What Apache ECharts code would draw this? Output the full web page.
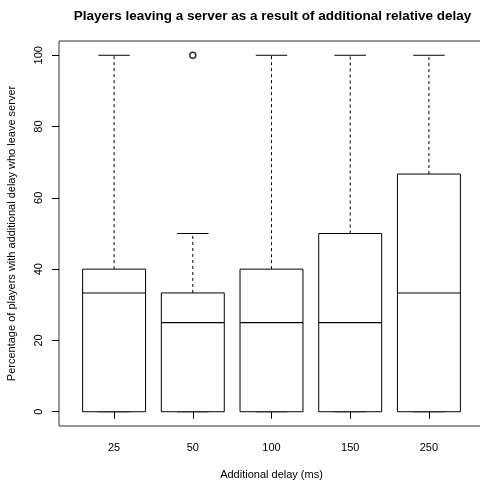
<!DOCTYPE html>
<html><head><meta charset="utf-8">
<script src="https://cdn.jsdelivr.net/npm/echarts@6/dist/echarts.min.js"></script>
<style>html,body{margin:0;padding:0;background:#fff}#c{width:480px;height:483px}</style>
</head><body><div id="c"></div>
<script>
var categories = ['25', '50', '100', '150', '250'];
var lowerWhisker = [0, 0, 0, 0, 0];
var q1 = [0, 0, 0, 0, 0];
var median = [33.33, 25, 25, 25, 33.33];
var q3 = [40, 33.33, 40, 50, 66.67];
var upperWhisker = [100, 50, 100, 100, 100];
var outlierCategory = ['50'];
var outlierValue = [100];
var yTicks = [0, 20, 40, 60, 80, 100];

var FONT = 'Liberation Sans, Arial, Helvetica, sans-serif';
var boxData = categories.map(function (c, i) {
  return [i + 1, lowerWhisker[i], q1[i], median[i], q3[i], upperWhisker[i]];
});
var outData = outlierCategory.map(function (c, i) {
  return [categories.indexOf(c) + 1, outlierValue[i]];
});
var xPos = categories.map(function (c, i) { return i + 1; });

function renderBox(params, api) {
  var x = api.value(0);
  var lo = api.value(1), a = api.value(2), m = api.value(3), b = api.value(4), hi = api.value(5);
  var bw = api.size([0.8, 0])[0];
  var cw = bw / 2;
  var pLo = api.coord([x, lo]), pA = api.coord([x, a]), pM = api.coord([x, m]),
      pB = api.coord([x, b]), pHi = api.coord([x, hi]);
  var cx = pA[0];
  var st = { stroke: '#000', lineWidth: 1, fill: null };
  var dash = { stroke: '#000', lineWidth: 1, lineDash: [3, 3], fill: null };
  return {
    type: 'group',
    children: [
      { type: 'line', shape: { x1: cx, y1: pB[1], x2: cx, y2: pHi[1] }, style: dash },
      { type: 'line', shape: { x1: cx, y1: pA[1], x2: cx, y2: pLo[1] }, style: dash },
      { type: 'line', shape: { x1: cx - cw / 2, y1: pHi[1], x2: cx + cw / 2, y2: pHi[1] }, style: st },
      { type: 'line', shape: { x1: cx - cw / 2, y1: pLo[1], x2: cx + cw / 2, y2: pLo[1] }, style: st },
      { type: 'rect', shape: { x: cx - bw / 2, y: pB[1], width: bw, height: pA[1] - pB[1] },
        style: { stroke: '#000', lineWidth: 1, fill: '#fff' } },
      { type: 'line', shape: { x1: cx - bw / 2, y1: pM[1], x2: cx + bw / 2, y2: pM[1] }, style: { stroke: '#000', lineWidth: 1.1 } }
    ]
  };
}

var chart = echarts.init(document.getElementById('c'), null, { renderer: 'canvas' });
chart.setOption({
  animation: false,
  backgroundColor: '#fff',
  title: {
    text: 'Players leaving a server as a result of additional relative delay',
    left: 267.5, textAlign: 'center', top: 4,
    textStyle: { fontFamily: FONT, fontSize: 13.5, fontWeight: 'bold', color: '#000' }
  },
  grid: { left: 59, top: 41, width: 425, height: 385, outerBoundsMode: 'none', containLabel: false,
    show: true, borderColor: '#333', borderWidth: 1, backgroundColor: 'transparent' },
  xAxis: {
    type: 'value', min: 0.3, max: 5.7,
    name: 'Additional delay (ms)', nameLocation: 'middle', nameGap: 43,
    nameTextStyle: { fontFamily: FONT, fontSize: 11, color: '#000' },
    splitLine: { show: false }, axisLine: { show: false },
    axisTick: { show: true, customValues: xPos, length: 7, lineStyle: { color: '#000' } },
    axisLabel: { customValues: xPos, margin: 16, fontFamily: FONT, fontSize: 11, color: '#000',
      formatter: function (v) { return categories[Math.round(v) - 1] || ''; } }
  },
  yAxis: {
    type: 'value', min: -4, max: 104,
    name: 'Percentage of players with additional delay who leave server', nameLocation: 'middle', nameGap: 42,
    nameTextStyle: { fontFamily: FONT, fontSize: 11, color: '#000' },
    splitLine: { show: false }, axisLine: { show: false },
    axisTick: { show: true, customValues: yTicks, length: 7, lineStyle: { color: '#000' } },
    axisLabel: { customValues: yTicks, rotate: 90, margin: 15, fontFamily: FONT, fontSize: 11, color: '#000' }
  },
  series: [
    { type: 'custom', renderItem: renderBox, data: boxData, encode: { x: 0, y: [1, 2, 3, 4, 5] } },
    { type: 'scatter', data: outData, symbol: 'circle', symbolSize: 6,
      itemStyle: { color: '#fff', borderColor: '#000', borderWidth: 1.5 } }
  ]
});
</script></body></html>
